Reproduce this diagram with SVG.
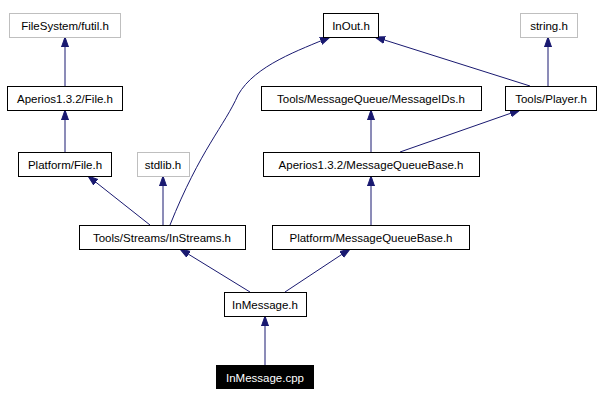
<svg xmlns="http://www.w3.org/2000/svg" width="600" height="401" viewBox="0 0 600 401">
<style>
.n rect{fill:#fff;stroke:#000;stroke-width:1}
.g rect{stroke:#bfbfbf}
text{font-family:"Liberation Sans",Arial,sans-serif;font-size:11.5px;text-anchor:middle}
.e path{fill:none;stroke:#191970;stroke-width:1;marker-end:url(#a)}
</style>
<defs><marker id="a" viewBox="0 0 10 10" refX="10" refY="5" markerWidth="10" markerHeight="10" markerUnits="userSpaceOnUse" orient="auto"><path d="M0,1.5 L10,5 L0,8.5 z" fill="#191970" stroke="#191970"/></marker></defs>
<rect width="600" height="401" fill="#fff"/>
<g class="e">
<path d="M65,86 L65,37"/>
<path d="M65,152 L65,110"/>
<path d="M150,225 L88,176"/>
<path d="M163,225 L163,176"/>
<path d="M170,225 C200,150 225,125 238,95 C255,65 300,50 330,37"/>
<path d="M530,86 L375,37"/>
<path d="M548,86 L548,37"/>
<path d="M371,152 L371,110"/>
<path d="M400,152 L520,110"/>
<path d="M371,225 L371,176"/>
<path d="M250,292 L180,249"/>
<path d="M285,292 L350,249"/>
<path d="M265,365 L265,316"/>
</g>
<g id="futil" class="n g"><rect x="9.5" y="13.5" width="111" height="24"/><text x="65" y="30">FileSystem/futil.h</text></g>
<g id="inout" class="n"><rect x="323.5" y="13.5" width="55" height="24"/><text x="351" y="30">InOut.h</text></g>
<g id="string" class="n g"><rect x="520.5" y="13.5" width="57" height="24"/><text x="549" y="30">string.h</text></g>
<g id="afile" class="n"><rect x="7.5" y="86.5" width="115" height="24"/><text x="65" y="103">Aperios1.3.2/File.h</text></g>
<g id="msgids" class="n"><rect x="261.5" y="86.5" width="220" height="24"/><text x="371" y="103">Tools/MessageQueue/MessageIDs.h</text></g>
<g id="player" class="n"><rect x="505.5" y="86.5" width="91" height="24"/><text x="551" y="103">Tools/Player.h</text></g>
<g id="pfile" class="n"><rect x="18.5" y="152.5" width="93" height="24"/><text x="65" y="169">Platform/File.h</text></g>
<g id="stdlib" class="n g"><rect x="137.5" y="152.5" width="52" height="24"/><text x="163" y="169">stdlib.h</text></g>
<g id="amqb" class="n"><rect x="263.5" y="152.5" width="216" height="24"/><text x="371" y="169">Aperios1.3.2/MessageQueueBase.h</text></g>
<g id="instreams" class="n"><rect x="79.5" y="225.5" width="166" height="24"/><text x="162" y="242">Tools/Streams/InStreams.h</text></g>
<g id="pmqb" class="n"><rect x="272.5" y="225.5" width="197" height="24"/><text x="371" y="242">Platform/MessageQueueBase.h</text></g>
<g id="inmsg" class="n"><rect x="224.5" y="292.5" width="82" height="24"/><text x="265" y="309">InMessage.h</text></g>
<g id="cpp"><rect x="216" y="365" width="98" height="24" fill="#000"/><text x="265" y="382" fill="#fff">InMessage.cpp</text></g>
</svg>
